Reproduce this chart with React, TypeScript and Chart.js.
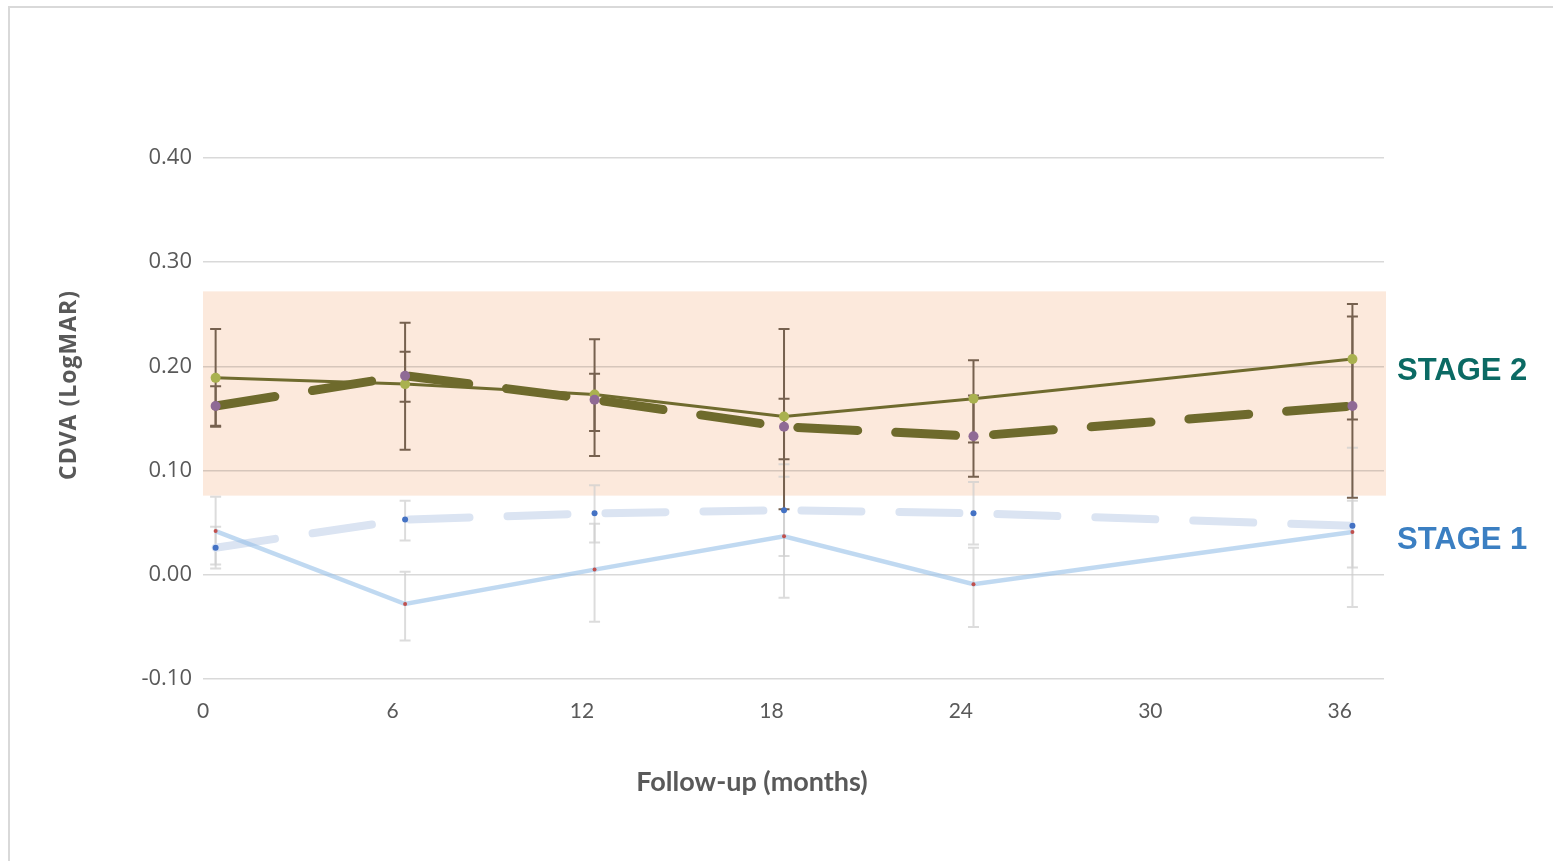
import React, { useEffect, useRef } from 'react';
import { Chart, registerables } from 'chart.js';

Chart.register(...registerables);

// Follow-up visit times (months) as plotted
const months = [0.4, 6.4, 12.4, 18.4, 24.4, 36.4];
const xTickStep = 6;
const xRange = [0, 37.4];
const yRange = [-0.1, 0.4];
const yTickStep = 0.1;

// STAGE 2 – solid series (yellow-green markers)
const stage2Solid = [0.189, 0.183, 0.173, 0.152, 0.169, 0.207];
const stage2SolidLow = [0.142, 0.12, 0.114, 0.063, 0.127, 0.149];
const stage2SolidHigh = [0.236, 0.242, 0.226, 0.236, 0.206, 0.26];
// STAGE 2 – dashed series (purple markers)
const stage2Dashed = [0.162, 0.191, 0.168, 0.142, 0.133, 0.162];
const stage2DashedLow = [0.143, 0.166, 0.138, 0.111, 0.094, 0.074];
const stage2DashedHigh = [0.181, 0.214, 0.193, 0.169, 0.172, 0.248];
// STAGE 1 – solid series (red markers)
const stage1Solid = [0.042, -0.028, 0.005, 0.037, -0.009, 0.041];
const stage1SolidLow = [0.01, -0.063, -0.045, -0.022, -0.05, -0.031];
const stage1SolidHigh = [0.075, 0.003, 0.049, 0.094, 0.026, 0.122];
// STAGE 1 – dashed series (blue markers)
const stage1Dashed = [0.026, 0.053, 0.059, 0.062, 0.059, 0.047];
const stage1DashedLow = [0.006, 0.033, 0.031, 0.018, 0.029, 0.007];
const stage1DashedHigh = [0.046, 0.071, 0.086, 0.106, 0.089, 0.071];

// Shaded STAGE 2 band (y range)
const stage2Band = [0.076, 0.272];
// Right-hand stage labels
const stageLabels = ['STAGE 2', 'STAGE 1'];
const stageLabelValues = [0.196, 0.034];
const stageLabelColors = ['#0b6a64', '#3b7fc2'];

const xTitle = 'Follow-up (months)';
const yTitle = 'CDVA (LogMAR)';

const toPoints = (vals: number[]) => vals.map((v, i) => ({ x: months[i], y: v }));

const decorPlugin = {
  id: 'decor',
  beforeDraw(chart: any) {
    const { ctx, chartArea, scales } = chart;
    ctx.save();
    ctx.fillStyle = '#ffffff';
    ctx.fillRect(0, 0, chart.width, chart.height);
    ctx.strokeStyle = '#d9d9d9';
    ctx.lineWidth = 2;
    ctx.strokeRect(9, 7, chart.width + 20, chart.height + 20);
    const yTop = scales.y.getPixelForValue(stage2Band[1]);
    const yBot = scales.y.getPixelForValue(stage2Band[0]);
    ctx.fillStyle = '#fce9dc';
    ctx.fillRect(chartArea.left, yTop, chartArea.right - chartArea.left + 2, yBot - yTop);
    ctx.restore();
  },
  beforeDatasetsDraw(chart: any) {
    const { ctx, scales } = chart;
    ctx.save();
    const order = [3, 2, 1, 0];
    order.forEach((di) => {
      const ds: any = chart.data.datasets[di];
      if (!ds.errLow) return;
      ctx.strokeStyle = ds.errColor;
      ctx.lineWidth = 2;
      ds.errLow.forEach((lo: number, i: number) => {
        const hi = ds.errHigh[i];
        const x = scales.x.getPixelForValue(months[i]);
        const y1 = scales.y.getPixelForValue(lo);
        const y2 = scales.y.getPixelForValue(hi);
        ctx.beginPath();
        ctx.moveTo(x, y1);
        ctx.lineTo(x, y2);
        ctx.moveTo(x - 5.5, y1);
        ctx.lineTo(x + 5.5, y1);
        ctx.moveTo(x - 5.5, y2);
        ctx.lineTo(x + 5.5, y2);
        ctx.stroke();
      });
    });
    ctx.restore();
  },
  afterDraw(chart: any) {
    const { ctx, chartArea, scales } = chart;
    ctx.save();
    ctx.font = 'bold 31px "Liberation Sans", Arial, sans-serif';
    ctx.textAlign = 'left';
    ctx.textBaseline = 'middle';
    stageLabels.forEach((t, i) => {
      ctx.fillStyle = stageLabelColors[i];
      ctx.fillText(t, chartArea.right + 13, scales.y.getPixelForValue(stageLabelValues[i]) + 1);
    });
    // x axis title
    ctx.fillStyle = '#595959';
    ctx.textAlign = 'center';
    ctx.font = 'bold 27px Lato, sans-serif';
    ctx.fillText(xTitle, 752, 782);
    // y axis title
    ctx.translate(69, 385);
    ctx.rotate(-Math.PI / 2);
    ctx.font = 'bold 23px "Open Sans", sans-serif';
    (ctx as any).letterSpacing = '1px';
    ctx.fillText(yTitle, 0, 0);
    ctx.restore();
  },
};

export default function App() {
  const ref = useRef<HTMLCanvasElement>(null);
  useEffect(() => {
    const canvas = ref.current!;
    const chart = new Chart(canvas, {
      type: 'line',
      data: {
        datasets: [
          {
            label: 'Stage 2 dashed',
            data: toPoints(stage2Dashed),
            borderColor: '#6e6a2c',
            borderWidth: 9,
            borderDash: [60, 38],
            borderCapStyle: 'round',
            borderJoinStyle: 'round',
            pointRadius: 5,
            pointBorderWidth: 0,
            pointBackgroundColor: '#8f6a95',
            pointBorderColor: '#8f6a95',
            order: 0,
            errLow: stage2DashedLow,
            errHigh: stage2DashedHigh,
            errColor: '#76614f',
          } as any,
          {
            label: 'Stage 2 solid',
            data: toPoints(stage2Solid),
            borderColor: '#6f6b2e',
            borderWidth: 3,
            pointRadius: 5,
            pointBorderWidth: 0,
            pointBackgroundColor: '#a9b14f',
            pointBorderColor: '#a9b14f',
            order: 1,
            errLow: stage2SolidLow,
            errHigh: stage2SolidHigh,
            errColor: '#76614f',
          } as any,
          {
            label: 'Stage 1 solid',
            data: toPoints(stage1Solid),
            borderColor: 'rgba(150,192,232,0.6)',
            borderWidth: 4.5,
            pointRadius: 2,
            pointBorderWidth: 0,
            pointBackgroundColor: '#c0504d',
            pointBorderColor: '#c0504d',
            order: 2,
            errLow: stage1SolidLow,
            errHigh: stage1SolidHigh,
            errColor: 'rgba(205,205,205,0.7)',
          } as any,
          {
            label: 'Stage 1 dashed',
            data: toPoints(stage1Dashed),
            borderColor: '#dbe4f2',
            borderWidth: 8,
            borderDash: [60, 38],
            borderCapStyle: 'round',
            borderJoinStyle: 'round',
            pointRadius: 3,
            pointBorderWidth: 0,
            pointBackgroundColor: '#4472c4',
            pointBorderColor: '#4472c4',
            order: 3,
            errLow: stage1DashedLow,
            errHigh: stage1DashedHigh,
            errColor: 'rgba(205,205,205,0.7)',
          } as any,
        ],
      },
      options: {
        responsive: false,
        animation: false,
        devicePixelRatio: 1,
        layout: { padding: { top: 158, right: 169, left: 0, bottom: 0 } },
        plugins: { legend: { display: false }, tooltip: { enabled: false } },
        elements: { line: { tension: 0 } },
        scales: {
          x: {
            type: 'linear',
            min: xRange[0],
            max: xRange[1],
            afterFit: (s: any) => {
              s.height = 182;
            },
            grid: { display: false },
            border: { display: false },
            ticks: {
              stepSize: xTickStep,
              includeBounds: false,
              autoSkip: false,
              maxRotation: 0,
              padding: 12,
              color: '#595959',
              font: { family: 'Lato, sans-serif', size: 21 },
              callback: (v: any) => String(v),
            },
          },
          y: {
            type: 'linear',
            min: yRange[0],
            max: yRange[1],
            afterFit: (s: any) => {
              s.width = 203;
            },
            grid: { color: 'rgba(0,0,0,0.15)', lineWidth: 1.5, drawTicks: false },
            border: { display: false },
            ticks: {
              stepSize: yTickStep,
              padding: 11,
              color: '#595959',
              font: { family: '"Open Sans", sans-serif', size: 22 },
              callback: (v: any) => Number(v).toFixed(2),
            },
          },
        },
      } as any,
      plugins: [decorPlugin],
    });
    return () => chart.destroy();
  }, []);
  return (
    <div style={{ position: 'absolute', left: 0, top: 0, width: 1553, height: 861, overflow: 'hidden' }}>
      <canvas ref={ref} width={1553} height={861} style={{ display: 'block' }} />
    </div>
  );
}
